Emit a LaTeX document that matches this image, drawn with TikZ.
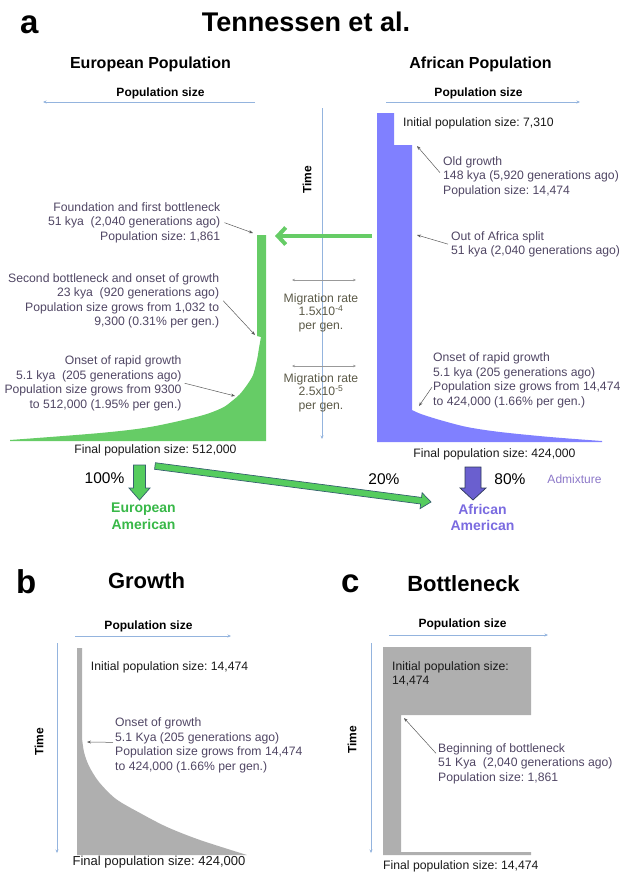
\documentclass[tikz,border=0pt]{standalone}
\usepackage{fontspec}
\setmainfont{Liberation Sans}
\usetikzlibrary{arrows.meta,calc}
\frenchspacing
\definecolor{EuGreen}{HTML}{66CC66}
\definecolor{AfBlue}{HTML}{8080FF}
\definecolor{Shade}{HTML}{AFAFAF}
\definecolor{Note}{HTML}{504664}
\definecolor{MigGray}{HTML}{5C5A48}
\definecolor{AxisBlue}{HTML}{94B4DE}
\definecolor{Rim}{HTML}{35606E}
\definecolor{EuText}{HTML}{38B848}
\definecolor{AfText}{HTML}{7A6BE0}
\definecolor{Admix}{HTML}{8C78C8}
\definecolor{FatGreen}{HTML}{55CC5E}
\definecolor{FatBlue}{HTML}{6A5FCF}
\tikzset{
  axisline/.style={-{Stealth[length=3.5pt,width=3pt]},draw=AxisBlue,line width=0.6pt},
  pointer/.style={-{Stealth[length=4pt,width=3pt]},draw=black!65,line width=0.5pt},
  migarrow/.style={{Stealth[length=3pt,width=2.6pt]}-{Stealth[length=3pt,width=2.6pt]},draw=black!40,line width=0.5pt},
  note/.style={inner sep=0pt,text=Note,font=\fontsize{12.2}{14.5}\selectfont},
  plain/.style={inner sep=0pt,text=black!90,font=\fontsize{12.2}{14.5}\selectfont},
  header/.style={inner sep=0pt,font=\bfseries\fontsize{16}{19}\selectfont},
  axlabel/.style={inner sep=0pt,font=\bfseries\fontsize{12}{14}\selectfont},
  panel/.style={inner sep=0pt,font=\bfseries\fontsize{33}{36}\selectfont},
  pct/.style={inner sep=0pt,font=\fontsize{15.5}{18}\selectfont},
  mixed/.style={inner sep=0pt,align=center,font=\bfseries\fontsize{14}{16.5}\selectfont},
  migtext/.style={inner sep=0pt,align=center,text=MigGray,font=\fontsize{12.2}{13.5}\selectfont}
}
% style, from, to, shaft half width, head half width, head length
\newcommand{\fatarrow}[6]{%
  \coordinate (fa-head) at ($(#3)!#6!(#2)$);
  \filldraw[#1] ($(#2)!#4!90:(#3)$) -- ($(fa-head)!#4!90:(#3)$) -- ($(fa-head)!#5!90:(#3)$) -- (#3)
    -- ($(fa-head)!#5!-90:(#3)$) -- ($(fa-head)!#4!-90:(#3)$) -- ($(#2)!#4!-90:(#3)$) -- cycle;}

\begin{document}
\begin{tikzpicture}[x=1pt,y=-1pt]
  \useasboundingbox (0,0) rectangle (619,876);
  % a: Tennessen et al.
  \node[panel,anchor=base west] (labA) at (20,33) {a};
  \node[inner sep=0pt,anchor=base,font=\bfseries\fontsize{27}{30}\selectfont] (title) at (306,31) {Tennessen et al.};
  \node[header,anchor=base] (euHead) at (150.5,68) {European Population};
  \node[header,anchor=base] (afHead) at (480.5,68) {African Population};
  \node[axlabel,anchor=base] (euSize) at (160.5,96) {Population size};
  \node[axlabel,anchor=base] (afSize) at (478.5,96) {Population size};
  \coordinate (euAxR) at (255,102); \coordinate (euAxL) at (43,102);
  \coordinate (afAxL) at (386,102); \coordinate (afAxR) at (580,102);
  \draw[axisline] (euAxR) -- (euAxL); \draw[axisline] (afAxL) -- (afAxR);
  \coordinate (timeTop) at (322,108); \coordinate (timeBot) at (322,439);
  \draw[axisline] (timeTop) -- (timeBot);
  \node[axlabel,rotate=90] (timeA) at (307,180) {Time};

  \fill[EuGreen] (257,235) -- (266,235) -- (266,441) -- (10,441) -- plot[smooth] coordinates {(10,440) (100,433) (150,427) (200,416) (222,408) (232,401) (240,394) (247,385) (253,375) (257,360) (259,348) (261,337)} -- (257,336) -- cycle;
  \fill[AfBlue] (377,113) -- (394,113) -- (394,145) -- (412,145) -- plot[smooth] coordinates {(412,410) (421,414) (440,420) (467,427) (500,432) (550,437) (602,441)} -- (602,442) -- (377,442) -- cycle;

  \coordinate (oasTail) at (372,236); \coordinate (oasTip) at (275,236);
  \draw[line width=4pt,EuGreen,-{Straight Barb[length=8pt,width=17pt]}] (oasTail) -- (oasTip);

  \node[note,align=right,anchor=north east] (noteFound) at (220.5,202.3) {Foundation and first bottleneck\\51 kya\ \ (2,040 generations ago)\\Population size: 1,861};
  \node[note,align=right,anchor=north east] (noteSecond) at (219.3,273.2) {Second bottleneck and onset of growth\\23 kya\ \ (920 generations ago)\\Population size grows from 1,032 to\\9,300 (0.31\% per gen.)};
  \node[note,align=right,anchor=north east] (noteRapidEu) at (181.7,355.6) {Onset of rapid growth\\5.1 kya\ \ (205 generations ago)\\Population size grows from 9300\\to 512,000 (1.95\% per gen.)};
  \coordinate (euFound) at (253,233); \coordinate (euSecond) at (255,335); \coordinate (euRapid) at (235,396);
  \draw[pointer] ([xshift=4pt]noteFound.east) -- (euFound);
  \draw[pointer] ([xshift=4pt]noteSecond.east) -- (euSecond);
  \draw[pointer] ([xshift=3pt]noteRapidEu.east) -- (euRapid);

  \node[plain,anchor=base west] (initAf) at (403,126.5) {Initial population size: 7,310};
  \node[note,align=left,anchor=north west] (noteOld) at (443,156.3) {Old growth\\148 kya (5,920 generations ago)\\Population size: 14,474};
  \node[note,align=left,anchor=north west] (noteOoA) at (451,231) {Out of Africa split\\51 kya (2,040 generations ago)};
  \node[note,align=left,anchor=north west] (noteRapidAf) at (433,352.5) {Onset of rapid growth\\5.1 kya (205 generations ago)\\Population size grows from 14,474\\to 424,000 (1.66\% per gen.)};
  \coordinate (afOld) at (417,146); \coordinate (afSplit) at (417,235); \coordinate (afRapid) at (419,406);
  \draw[pointer] ($(noteOld.west)+(-3,-4)$) -- (afOld);
  \draw[pointer] ([xshift=-3pt]noteOoA.west) -- (afSplit);
  \draw[pointer] ($(noteRapidAf.west)+(-1,7)$) -- (afRapid);

  \coordinate (mig1L) at (292,280); \coordinate (mig1R) at (356,280);
  \coordinate (mig2L) at (292,366); \coordinate (mig2R) at (356,366);
  \draw[migarrow] (mig1L) -- (mig1R); \draw[migarrow] (mig2L) -- (mig2R);
  \node[migtext,anchor=north] (mig1) at (321,293.3) {Migration rate\\1.5x10\textsuperscript{-4}\\per gen.};
  \node[migtext,anchor=north] (mig2) at (321,373.3) {Migration rate\\2.5x10\textsuperscript{-5}\\per gen.};

  \node[plain,anchor=base] (finalEu) at (155.5,453) {Final population size: 512,000};
  \node[plain,anchor=base] (finalAf) at (494.5,457.5) {Final population size: 424,000};
  \coordinate (euOut) at (139.5,465); \coordinate (euIn) at (139.5,500);
  \coordinate (mixOut) at (155,466); \coordinate (mixIn) at (431,502);
  \coordinate (afOut) at (473,467); \coordinate (afIn) at (473,500);
  \fatarrow{fill=FatGreen,draw=Rim,line width=0.7pt}{euOut}{euIn}{6pt}{10.5pt}{12pt}
  \fatarrow{fill=FatGreen,draw=Rim,line width=0.7pt}{mixOut}{mixIn}{3.3pt}{8pt}{10pt}
  \fatarrow{fill=FatBlue,draw=Rim!60!FatBlue!60!black,line width=0.7pt}{afOut}{afIn}{8pt}{13pt}{12pt}
  \node[pct] (p100) at (104.5,478) {100\%};
  \node[pct] (p20) at (384,479) {20\%};
  \node[pct] (p80) at (510,479) {80\%};
  \node[inner sep=0pt,text=Admix,font=\fontsize{12}{14}\selectfont] (admix) at (574.5,479) {Admixture};
  \node[mixed,text=EuText] (euAm) at (143.5,516) {European\\American};
  \node[mixed,text=AfText] (afAm) at (482.5,517.5) {African\\American};

  % b: Growth
  \node[panel,anchor=base west] (labB) at (16,593) {b};
  \node[inner sep=0pt,anchor=base,font=\bfseries\fontsize{22}{26}\selectfont] (growth) at (146.5,588.3) {Growth};
  \node[axlabel,anchor=base] (bSize) at (148.5,629) {Population size};
  \coordinate (bAxL) at (75,636); \coordinate (bAxR) at (231,636);
  \coordinate (bTimeTop) at (57,643); \coordinate (bTimeBot) at (57,853);
  \draw[axisline] (bAxL) -- (bAxR); \draw[axisline] (bTimeTop) -- (bTimeBot);
  \node[axlabel,rotate=90] (bTime) at (39,742) {Time};
  \fill[Shade] (77,648) -- (82,648) -- plot[smooth] coordinates {(82,738) (84,752) (89,766) (99,782) (116,799) (140,813) (167,827) (200,840) (247,855)} -- (77,855) -- cycle;
  \node[plain,anchor=base west] (bInit) at (90.7,670) {Initial population size: 14,474};
  \node[note,align=left,anchor=north west] (noteGrowth) at (115,717.7) {Onset of growth\\5.1 Kya (205 generations ago)\\Population size grows from 14,474\\to 424,000 (1.66\% per gen.)};
  \coordinate (bOnset) at (87,742);
  \draw[pointer] ($(noteGrowth.west)+(-2,-3)$) -- (bOnset);
  \node[plain,anchor=base,font=\fontsize{13}{15}\selectfont] (bFinal) at (159,865.5) {Final population size: 424,000};

  % c: Bottleneck
  \node[panel,anchor=base west] (labC) at (341,592) {c};
  \node[inner sep=0pt,anchor=base,font=\bfseries\fontsize{22}{26}\selectfont] (bneck) at (463.5,591) {Bottleneck};
  \node[axlabel,anchor=base] (cSize) at (462.5,627.3) {Population size};
  \coordinate (cAxL) at (389,635); \coordinate (cAxR) at (548,635);
  \coordinate (cTimeTop) at (371,643); \coordinate (cTimeBot) at (371,853);
  \draw[axisline] (cAxL) -- (cAxR); \draw[axisline] (cTimeTop) -- (cTimeBot);
  \node[axlabel,rotate=90] (cTime) at (352,740) {Time};
  \fill[Shade] (383,647) -- (531,647) -- (531,715) -- (401,715) -- (401,852) -- (531,852) -- (531,855) -- (383,855) -- cycle;
  \node[plain,align=left,anchor=north west] (cInit) at (392,661.3) {Initial population size:\\14,474};
  \node[note,align=left,anchor=north west] (noteBneck) at (438,743.3) {Beginning of bottleneck\\51 Kya\ \ (2,040 generations ago)\\Population size: 1,861};
  \coordinate (cNeck) at (404,718);
  \draw[pointer] ($(noteBneck.north west)+(-2,10)$) -- (cNeck);
  \node[plain,anchor=base west] (cFinal) at (383,869) {Final population size: 14,474};
\end{tikzpicture}
\end{document}
